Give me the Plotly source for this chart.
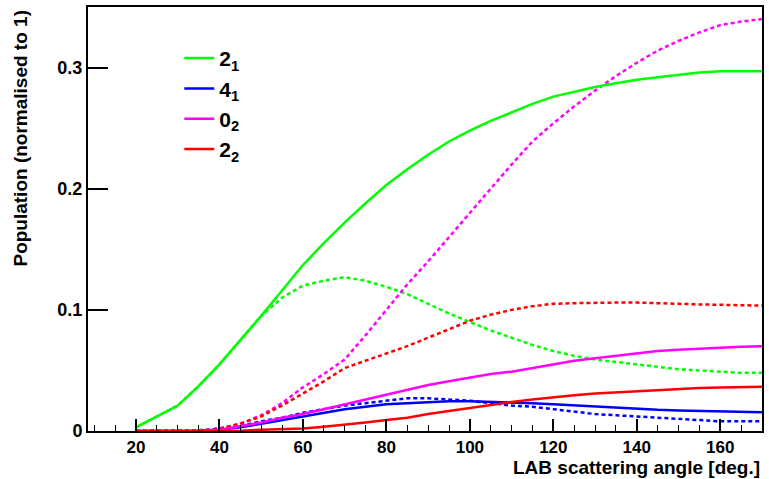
import plotly.graph_objects as go

angles = [20, 25, 30, 35, 40, 45, 50, 55, 60, 65, 70, 75, 80, 85, 90, 95, 100,
          105, 110, 115, 120, 125, 130, 135, 140, 145, 150, 155, 160, 165, 170]

g21_solid = [0.003, 0.012, 0.021, 0.037, 0.055, 0.075, 0.095, 0.116, 0.137, 0.155, 0.172,
             0.188, 0.203, 0.216, 0.228, 0.239, 0.248, 0.256, 0.263, 0.270, 0.276, 0.280,
             0.284, 0.287, 0.290, 0.292, 0.294, 0.296, 0.297, 0.297, 0.297]
g21_dash = [0.003, 0.012, 0.021, 0.037, 0.055, 0.075, 0.095, 0.110, 0.120, 0.124, 0.127,
            0.124, 0.119, 0.113, 0.105, 0.097, 0.090, 0.083, 0.077, 0.071, 0.066, 0.062,
            0.059, 0.057, 0.055, 0.053, 0.051, 0.050, 0.049, 0.048, 0.048]
b41_solid = [0.0, 0.0, 0.0, 0.0003, 0.001, 0.003, 0.006, 0.009, 0.012, 0.015, 0.018,
             0.020, 0.022, 0.023, 0.024, 0.0245, 0.0245, 0.024, 0.024, 0.023, 0.022, 0.021,
             0.020, 0.019, 0.018, 0.0175, 0.017, 0.0165, 0.016, 0.0155, 0.0155]
b41_dash = [0.0, 0.0, 0.0, 0.0005, 0.002, 0.004, 0.008, 0.011, 0.015, 0.018, 0.021,
            0.023, 0.025, 0.027, 0.027, 0.026, 0.025, 0.023, 0.021, 0.020, 0.018, 0.016,
            0.014, 0.013, 0.012, 0.011, 0.010, 0.009, 0.008, 0.008, 0.008]
m02_solid = [0.0, 0.0, 0.0, 0.0003, 0.001, 0.004, 0.007, 0.011, 0.014, 0.018, 0.022,
             0.026, 0.030, 0.034, 0.038, 0.041, 0.044, 0.047, 0.049, 0.052, 0.055, 0.058,
             0.060, 0.062, 0.064, 0.066, 0.067, 0.068, 0.069, 0.0695, 0.070]
m02_dash = [0.0, 0.0, 0.0, 0.0005, 0.002, 0.006, 0.013, 0.023, 0.036, 0.047, 0.059,
            0.079, 0.100, 0.121, 0.140, 0.160, 0.180, 0.200, 0.220, 0.239, 0.254, 0.268,
            0.281, 0.293, 0.304, 0.314, 0.322, 0.329, 0.335, 0.338, 0.340]
r22_solid = [0.0, 0.0, 0.0, 0.0, 0.0, 0.0003, 0.001, 0.0015, 0.002, 0.0035, 0.005,
             0.007, 0.009, 0.011, 0.014, 0.0165, 0.019, 0.022, 0.024, 0.026, 0.028, 0.0295,
             0.031, 0.032, 0.033, 0.034, 0.035, 0.0355, 0.036, 0.0362, 0.0365]
r22_dash = [0.0, 0.0, 0.0, 0.0, 0.002, 0.006, 0.012, 0.021, 0.031, 0.041, 0.052,
            0.058, 0.064, 0.070, 0.077, 0.084, 0.091, 0.096, 0.100, 0.103, 0.105, 0.1055,
            0.106, 0.106, 0.106, 0.1058, 0.105, 0.1045, 0.104, 0.1035, 0.1035]

legend_names = ["2<sub>1</sub>", "4<sub>1</sub>", "0<sub>2</sub>", "2<sub>2</sub>"]
colors = ["#00ff00", "#0000ff", "#ff00ff", "#ff0000"]
solid_series = [g21_solid, b41_solid, m02_solid, r22_solid]
dash_series = [g21_dash, b41_dash, m02_dash, r22_dash]

x_ticks = [20, 40, 60, 80, 100, 120, 140, 160]
y_ticks = [0, 0.1, 0.2, 0.3]
y_ticktext = ["0", "0.1", "0.2", "0.3"]

FONT = "Liberation Sans, Arial, sans-serif"

fig = go.Figure()
for ys, c in zip(dash_series, colors):
    fig.add_trace(go.Scatter(x=angles, y=ys, mode="lines", showlegend=False,
                             line=dict(color=c, width=2.5, dash="4px,3px")))
for ys, c, n in zip(solid_series, colors, legend_names):
    fig.add_trace(go.Scatter(x=angles, y=ys, mode="lines", name=n,
                             line=dict(color=c, width=2.5)))

fig.update_layout(
    width=769, height=479,
    margin=dict(l=88, r=5, t=6, b=48),
    plot_bgcolor="white", paper_bgcolor="white",
    font=dict(family=FONT, color="black"),
    legend=dict(x=0.1354, y=0.927, xanchor="left", yanchor="top",
                font=dict(family=FONT, size=21, weight="bold", color="black"),
                bgcolor="rgba(0,0,0,0)", tracegroupgap=0),
    xaxis=dict(range=[8.5, 170], tickvals=x_ticks, ticks="inside", ticklen=12,
               tickwidth=1.5, tickcolor="black",
               minor=dict(dtick=5, ticks="inside", ticklen=6, tickcolor="black", tickwidth=1.2),
               showline=True, linecolor="black", linewidth=2, mirror=True,
               showgrid=False, zeroline=False,
               tickfont=dict(family=FONT, size=17, weight="bold", color="black")),
    yaxis=dict(range=[0, 0.35], tickvals=y_ticks, ticktext=y_ticktext, ticks="inside",
               ticklen=20, tickwidth=1.5, tickcolor="black",
               showline=True, linecolor="black", linewidth=2, mirror=True,
               showgrid=False, zeroline=False,
               tickfont=dict(family=FONT, size=18, weight="bold", color="black")),
    annotations=[
        dict(text="LAB scattering angle [deg.]", xref="paper", yref="paper",
             x=1.0, y=-0.087, xanchor="right", yanchor="middle", showarrow=False,
             font=dict(family=FONT, size=19, weight="bold", color="black")),
        dict(text="Population (normalised to 1)", xref="paper", yref="paper",
             x=-0.1006, y=0.998, xanchor="center", yanchor="top", textangle=-90,
             showarrow=False,
             font=dict(family=FONT, size=19, weight="bold", color="black")),
    ],
)

fig.write_html("out.html")
